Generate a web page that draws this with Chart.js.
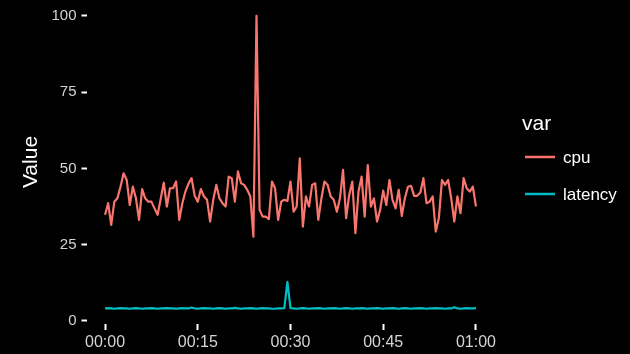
<!DOCTYPE html>
<html><head><meta charset="utf-8">
<script src="https://cdn.jsdelivr.net/npm/chart.js@4.4.0/dist/chart.umd.min.js"></script>
<style>html,body{margin:0;padding:0;background:#000;overflow:hidden}#c{display:block}</style>
</head><body>
<canvas id="c" width="630" height="354"></canvas>
<script>
const seriesNames = ['cpu', 'latency'];
const seriesColors = ['#F8766D', '#00BFC4'];
const stepMinutes = 0.5;
const cpu = [
  34.8, 38.6, 31.5, 39.1, 40.2, 44.0, 48.4, 46.2, 38.0, 44.0,
  40.2, 33.1, 43.2, 40.2, 39.1, 39.1, 36.9, 34.8, 40.0, 45.3,
  37.5, 43.5, 43.5, 45.7, 33.1, 38.6, 42.4, 45.0, 46.8, 41.0,
  39.1, 43.2, 40.8, 39.7, 32.6, 39.7, 44.6, 40.2, 38.6, 37.5,
  47.3, 46.8, 39.1, 49.0, 45.1, 44.6, 43.0, 40.8, 27.6, 100,
  36.4, 34.2, 34.2, 33.4, 45.7, 43.5, 33.1, 39.1, 39.7, 39.3,
  45.7, 35.8, 37.5, 53.3, 30.9, 40.8, 37.5, 44.6, 45.1, 33.1,
  40.2, 45.7, 44.6, 40.8, 39.7, 35.8, 40.2, 49.5, 33.7, 41.3,
  45.7, 28.8, 42.4, 47.3, 34.2, 51.1, 37.5, 40.2, 32.6, 36.4,
  42.7, 38.0, 46.2, 39.7, 36.9, 43.0, 34.4, 40.2, 44.0, 44.3,
  41.0, 41.0, 42.1, 46.8, 38.6, 39.1, 40.8, 29.3, 33.7, 46.2,
  44.6, 46.2, 40.2, 32.6, 40.8, 35.3, 46.8, 43.5, 42.4, 44.0,
  37.5
];
const latency = [
  4.1, 4.2, 4.1, 4.0, 4.1, 4.2, 4.1, 4.1, 4.0, 4.1,
  4.2, 4.1, 4.0, 4.1, 4.1, 4.2, 4.1, 4.0, 4.1, 4.1,
  4.2, 4.1, 4.1, 4.0, 4.1, 4.2, 4.1, 4.1, 4.4, 4.1,
  4.0, 4.1, 4.2, 4.1, 4.1, 4.0, 4.1, 4.2, 4.1, 4.0,
  4.1, 4.1, 4.3, 4.1, 4.0, 4.1, 4.1, 4.2, 4.1, 4.0,
  4.1, 4.2, 4.1, 4.1, 4.0, 4.0, 4.1, 4.1, 4.2, 12.8,
  4.2, 4.1, 4.0, 4.1, 4.2, 4.1, 4.0, 4.1, 4.1, 4.2,
  4.1, 4.0, 4.1, 4.1, 4.2, 4.1, 4.0, 4.1, 4.2, 4.1,
  4.0, 4.1, 4.1, 4.2, 4.1, 4.0, 4.1, 4.1, 4.2, 4.1,
  4.0, 4.1, 4.1, 4.2, 4.1, 4.0, 4.1, 4.2, 4.1, 4.0,
  4.1, 4.1, 4.2, 4.1, 4.0, 4.1, 4.1, 4.2, 4.1, 4.1,
  4.0, 4.1, 4.1, 4.5, 4.1, 4.0, 4.1, 4.2, 4.1, 4.1,
  4.2
];
const xTickValues = [0, 15, 30, 45, 60];
const xTickLabels = ['00:00', '00:15', '00:30', '00:45', '01:00'];
const yTickValues = [0, 25, 50, 75, 100];
const yTitle = 'Value';
const legendTitle = 'var';

const FONT = '"Liberation Sans", Arial, Helvetica, sans-serif';
const toPoints = arr => arr.map((v, i) => ({ x: i * stepMinutes, y: v }));

const overlay = {
  id: 'overlay',
  beforeDraw(chart) {
    const ctx = chart.ctx;
    ctx.save();
    ctx.fillStyle = '#000';
    ctx.fillRect(0, 0, chart.width, chart.height);
    ctx.restore();
  },
  afterDraw(chart) {
    const ctx = chart.ctx;
    ctx.save();
    ctx.translate(31, 162);
    ctx.rotate(-Math.PI / 2);
    ctx.fillStyle = '#ffffff';
    ctx.font = '21px ' + FONT;
    ctx.textAlign = 'center';
    ctx.textBaseline = 'middle';
    ctx.fillText(yTitle, 0, 0);
    ctx.restore();

    ctx.save();
    ctx.fillStyle = '#ffffff';
    ctx.font = '21px ' + FONT;
    ctx.textAlign = 'left';
    ctx.textBaseline = 'alphabetic';
    ctx.fillText(legendTitle, 522, 130);
    const rows = [157, 194];
    seriesNames.forEach((name, i) => {
      const y = rows[i];
      ctx.strokeStyle = seriesColors[i];
      ctx.lineWidth = 2.5;
      ctx.beginPath();
      ctx.moveTo(525, y);
      ctx.lineTo(555, y);
      ctx.stroke();
      ctx.fillStyle = '#ffffff';
      ctx.font = '17px ' + FONT;
      ctx.fillText(name, 563, y + 6);
    });
    ctx.restore();
  }
};

new Chart(document.getElementById('c'), {
  type: 'line',
  data: {
    datasets: [
      { label: seriesNames[0], data: toPoints(cpu), borderColor: seriesColors[0], borderWidth: 2.2, pointRadius: 0, tension: 0, borderJoinStyle: 'round', fill: false },
      { label: seriesNames[1], data: toPoints(latency), borderColor: seriesColors[1], borderWidth: 2.2, pointRadius: 0, tension: 0, borderJoinStyle: 'round', fill: false }
    ]
  },
  options: {
    responsive: false,
    animation: false,
    devicePixelRatio: 1,
    layout: { padding: { left: 0, top: 1.5, right: 135.5, bottom: 0 } },
    plugins: { legend: { display: false }, tooltip: { enabled: false } },
    scales: {
      x: {
        type: 'linear', min: -3, max: 63,
        afterBuildTicks: s => { s.ticks = xTickValues.map(v => ({ value: v })); },
        afterFit: s => { s.height = 30; s.paddingLeft = 0; s.paddingRight = 0; },
        ticks: {
          callback: v => xTickLabels[xTickValues.indexOf(v)],
          color: '#d4d4d4', font: { family: FONT, size: 16 }, padding: 3,
          maxRotation: 0, autoSkip: false
        },
        grid: { drawOnChartArea: false, tickLength: 6, tickColor: '#ffffff', tickWidth: 2 },
        border: { display: false }
      },
      y: {
        type: 'linear', min: -1, max: 104.7,
        afterBuildTicks: s => { s.ticks = yTickValues.map(v => ({ value: v })); },
        afterFit: s => { s.width = 86.5; s.paddingTop = 0; s.paddingBottom = 0; },
        ticks: {
          color: '#d4d4d4', font: { family: FONT, size: 15 }, padding: 5, autoSkip: false
        },
        grid: { drawOnChartArea: false, tickLength: 5, tickColor: '#ffffff', tickWidth: 2 },
        border: { display: false }
      }
    }
  },
  plugins: [overlay]
});
</script>
</body></html>
